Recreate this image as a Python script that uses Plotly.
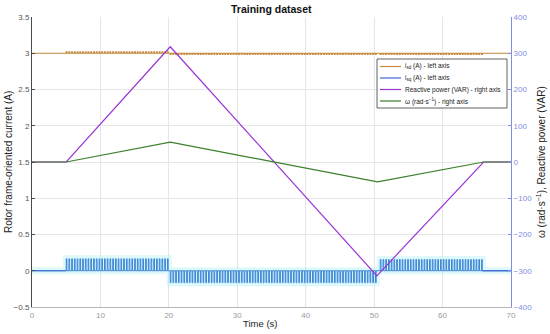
import plotly.graph_objects as go

# ---------------- data ----------------
# Reactive power (VAR, right axis) key points
q_time = [0, 5, 20.2, 50.4, 66, 70]
q_var = [0, 0, 318, -314, 0, 0]

# Rotor speed omega (rad/s, right axis) key points
w_time = [0, 5, 20.2, 50.5, 66, 70]
w_rad = [0, 0, 55, -55, 0, 0]

# i_sq (A, left axis): pulse segments
isq_seg_start = [5, 20.2, 50.9]
isq_seg_end = [20.0, 50.4, 65.8]
isq_seg_base = [0.0, 0.0, 0.0]
isq_seg_peak = [0.165, -0.165, 0.155]

# i_sd (A, left axis): ripple segments around 3 A
isd_level = 3.0
isd_seg_start = [5, 20.2, 50.9]
isd_seg_end = [20.0, 50.4, 65.8]
isd_seg_peak = [3.018, 2.985, 2.985]

pulse_period = 0.4
pulse_width = 0.1
t_min, t_max = 0, 70

x_ticks = [0, 10, 20, 30, 40, 50, 60, 70]
left_ticks = [-0.5, 0, 0.5, 1, 1.5, 2, 2.5, 3, 3.5]
right_ticks = [-400, -300, -200, -100, 0, 100, 200, 300, 400]


def pulse_series(starts, ends, bases, peaks):
    ts, ys = [t_min], [bases[0]]
    for t0, t1, b, p in zip(starts, ends, bases, peaks):
        ts.append(t0); ys.append(b)
        t = t0
        while t + pulse_width < t1:
            ts += [t, t, t + pulse_width, t + pulse_width]
            ys += [b, p, p, b]
            t += pulse_period
        ts.append(t1); ys.append(b)
    ts.append(t_max); ys.append(bases[-1])
    return ts, ys


isq_t, isq_v = pulse_series(isq_seg_start, isq_seg_end, isq_seg_base, isq_seg_peak)
isd_t, isd_v = pulse_series(isd_seg_start, isd_seg_end,
                            [isd_level] * 3, isd_seg_peak)

# ---------------- styling ----------------
FONT = "Liberation Sans, Arial, sans-serif"
C_ISD = "#C58A3E"
C_ISQ = "#3F63CF"
C_ISQ_PULSE = "#3D86D6"
C_Q = "#9A34D6"
C_W = "#3C7F2A"
C_RAX = "#7F8EE3"

fig = go.Figure()

fig.add_trace(go.Scatter(x=isq_t, y=isq_v, mode="lines",
                         line=dict(color="rgba(160,238,245,0.35)", width=7),
                         hoverinfo="skip", showlegend=False))
fig.add_trace(go.Scatter(x=isd_t, y=isd_v, mode="lines",
                         line=dict(color=C_ISD, width=1.2),
                         name="i<sub>sd</sub> (A) - left axis"))
fig.add_trace(go.Scatter(x=isq_t, y=isq_v, mode="lines",
                         line=dict(color=C_ISQ_PULSE, width=1),
                         name="i<sub>sq</sub> (A) - left axis"))
fig.add_trace(go.Scatter(x=[t_min, isq_seg_start[0]], y=[0, 0], mode="lines",
                         line=dict(color=C_ISQ, width=1.2), showlegend=False))
fig.add_trace(go.Scatter(x=[isq_seg_end[-1], t_max], y=[0, 0], mode="lines",
                         line=dict(color=C_ISQ, width=1.2), showlegend=False))
fig.add_trace(go.Scatter(x=q_time, y=q_var, mode="lines", yaxis="y2",
                         line=dict(color=C_Q, width=1.2),
                         name="Reactive power (VAR) - right axis"))
fig.add_trace(go.Scatter(x=w_time, y=w_rad, mode="lines", yaxis="y2",
                         line=dict(color=C_W, width=1.2),
                         name="ω (rad·s<sup>−1</sup>) - right axis"))

# plot-area geometry (pixels) used for the hand-drawn legend box
L, R, T, B = 32, 511, 17, 307


def px(xpix):
    return (xpix - L) / (R - L)


def py(ypix):
    return (B - ypix) / (B - T)


legend_items = [
    ("i<sub>sd</sub> (A) - left axis", C_ISD),
    ("i<sub>sq</sub> (A) - left axis", C_ISQ),
    ("Reactive power (VAR) - right axis", C_Q),
    ("ω (rad·s<sup>−1</sup>) - right axis", C_W),
]

shapes = [dict(type="rect", xref="paper", yref="paper",
               x0=px(377), x1=px(507), y0=py(108), y1=py(59),
               line=dict(color="#3a3a3a", width=0.8), fillcolor="white",
               layer="above")]
annotations = []
row_y = [66.5, 78, 89.5, 101]
for (label, col), ry in zip(legend_items, row_y):
    shapes.append(dict(type="line", xref="paper", yref="paper",
                       x0=px(380), x1=px(401), y0=py(ry), y1=py(ry),
                       line=dict(color=col, width=1.2), layer="above"))
    annotations.append(dict(text=label, xref="paper", yref="paper",
                            x=px(403), y=py(ry), xanchor="left", yanchor="middle",
                            showarrow=False, font=dict(family=FONT, size=6.5, color="#222")))

annotations += [
    dict(text="Rotor frame-oriented current (A)", xref="paper", yref="paper",
         x=px(8), y=py(162), textangle=-90, showarrow=False,
         xanchor="center", yanchor="middle",
         font=dict(family=FONT, size=10, color="#222")),
    dict(text="ω (rad·s<sup>−1</sup>), Reactive power (VAR)", xref="paper", yref="paper",
         x=px(541), y=py(162), textangle=-90, showarrow=False,
         xanchor="center", yanchor="middle",
         font=dict(family=FONT, size=10, color="#222")),
    dict(text="<b>Training dataset</b>", xref="paper", yref="paper",
         x=px(271.5), y=py(9), showarrow=False, xanchor="center", yanchor="middle",
         font=dict(family=FONT, size=10.5, color="#111")),
    dict(text="Time (s)", xref="paper", yref="paper",
         x=px(260), y=py(323), showarrow=False, xanchor="center", yanchor="middle",
         font=dict(family=FONT, size=9.5, color="#222")),
]

fig.update_layout(
    width=550, height=334,
    margin=dict(l=L, r=550 - R, t=T, b=334 - B, pad=0),
    paper_bgcolor="white", plot_bgcolor="white",
    showlegend=False,
    font=dict(family=FONT, size=8, color="#555"),
    xaxis=dict(range=[t_min, t_max], tickvals=x_ticks, showgrid=True,
               gridcolor="#E6E6E6", gridwidth=1, zeroline=False,
               showline=True, linecolor="#B5B5B5", linewidth=1,
               ticks="", tickfont=dict(size=8, color="#9a9a9a")),
    yaxis=dict(range=[-0.5, 3.5], tickvals=left_ticks, showgrid=True,
               gridcolor="#E6E6E6", gridwidth=1, zeroline=False,
               showline=True, linecolor="#4a4a4a", linewidth=1,
               ticks="inside", ticklen=3, tickcolor="#4a4a4a",
               tickfont=dict(size=8, color="#555")),
    yaxis2=dict(range=[-400, 400], tickvals=right_ticks, overlaying="y",
                side="right", showgrid=False, zeroline=False,
                showline=True, linecolor=C_RAX, linewidth=1,
                ticks="inside", ticklen=3, tickcolor=C_RAX,
                tickfont=dict(size=8, color=C_RAX)),
    shapes=shapes,
    annotations=annotations,
)

fig.write_html("out.html",
               config={"displayModeBar": False},
               post_script="document.body.style.margin='0';document.body.style.overflow='hidden';")
